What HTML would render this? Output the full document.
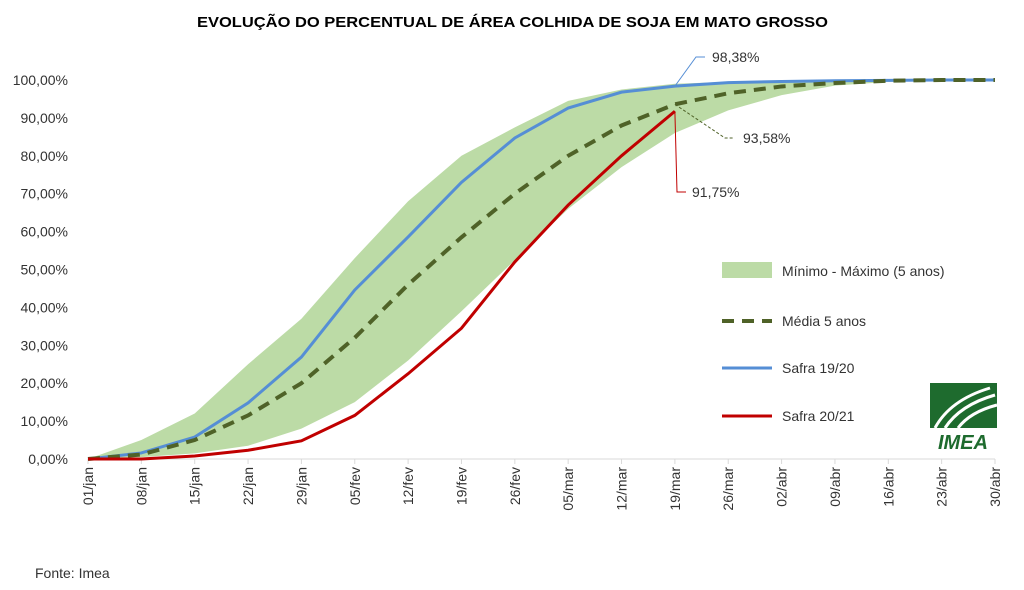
<!DOCTYPE html>
<html><head><meta charset="utf-8"><style>
body{margin:0;background:#fff;font-family:"Liberation Sans",sans-serif}
svg text{font-family:"Liberation Sans",sans-serif}
</style></head><body>
<svg id="c" width="1024" height="585" viewBox="0 0 1024 585">
<text x="197" y="27" textLength="631" lengthAdjust="spacingAndGlyphs" font-size="15" font-weight="bold" fill="#000">EVOLUÇÃO DO PERCENTUAL DE ÁREA COLHIDA DE SOJA EM MATO GROSSO</text>
<g id="yax"></g>
<g id="xax"></g>
<g id="marks"></g>
<g>
<rect x="722" y="262" width="50" height="16" fill="#bcdba6"/>
<text x="782" y="276" font-size="14" fill="#333">Mínimo - Máximo (5 anos)</text>
<line x1="722" y1="321" x2="772" y2="321" stroke="#4f6228" stroke-width="4" stroke-dasharray="12,8"/>
<text x="782" y="326" font-size="14" fill="#333">Média 5 anos</text>
<line x1="722" y1="368" x2="772" y2="368" stroke="#558ed5" stroke-width="3"/>
<text x="782" y="373" font-size="14" fill="#333">Safra 19/20</text>
<line x1="722" y1="416" x2="772" y2="416" stroke="#c00000" stroke-width="3"/>
<text x="782" y="421" font-size="14" fill="#333">Safra 20/21</text>
</g>
<g>
<rect x="930" y="383" width="67" height="45" fill="#1e6b2e"/>
<path d="M935 428 Q950 400 990 388 M945 428 Q960 405 995 395 M958 428 Q970 412 997 405" stroke="#fff" stroke-width="3" fill="none"/>
<text x="963" y="449" text-anchor="middle" font-size="20" font-style="italic" fill="#1e6b2e" font-weight="bold">IMEA</text>
</g>
<text x="35" y="578" font-size="14" fill="#333">Fonte: Imea</text>
</svg>
<script>
const categories=["01/jan","08/jan","15/jan","22/jan","29/jan","05/fev","12/fev","19/fev","26/fev","05/mar","12/mar","19/mar","26/mar","02/abr","09/abr","16/abr","23/abr","30/abr"];
const yTicks=[0,10,20,30,40,50,60,70,80,90,100];
const minVals=[0,0.5,1.5,3.5,8,15,26,39,52.5,66,77,86,92,96,98.5,99.5,100,100];
const maxVals=[0,5,12,25,37,53,68,80,87.5,94.5,97.5,99,99.5,99.8,100,100,100,100];
const meanVals=[0,1.2,5,11.5,20,32,46,58.5,70,80,88,93.58,96.5,98.3,99.2,99.8,100,100];
const safra1920=[0,1.6,5.8,14.8,26.9,44.6,58.6,73,84.7,92.6,96.8,98.38,99.3,99.6,99.8,99.9,100,100];
const safra2021=[0,0,0.8,2.3,4.8,11.5,22.5,34.5,52,67,80,91.75];
const NS="http://www.w3.org/2000/svg";
const X0=88,X1=995,Y0=459,Y100=80;
const xs=i=>X0+(X1-X0)*i/(categories.length-1);
const ys=v=>Y0-(Y0-Y100)*v/100;
function mk(t,a,p){const e=document.createElementNS(NS,t);for(const k in a)e.setAttribute(k,a[k]);p.appendChild(e);return e;}
const yax=document.getElementById('yax'),xax=document.getElementById('xax'),marks=document.getElementById('marks');
yTicks.forEach(v=>{const t=mk('text',{x:68,y:ys(v)+5,'text-anchor':'end','font-size':14,fill:'#333'},yax);t.textContent=v.toFixed(2).replace('.',',')+'%';

});
mk('line',{x1:X0,y1:Y0,x2:X1,y2:Y0,stroke:'#d9d9d9','stroke-width':1},xax);
categories.forEach((c,i)=>{const x=xs(i);mk('line',{x1:x,y1:Y0,x2:x,y2:Y0+5,stroke:'#d9d9d9'},xax);
const t=mk('text',{x:x+5,y:Y0+8,'text-anchor':'end','font-size':14,fill:'#333',transform:`rotate(-90 ${x+5} ${Y0+8})`},xax);t.textContent=c;

});
let d='';maxVals.forEach((v,i)=>d+=(i?'L':'M')+xs(i)+' '+ys(v));
for(let i=minVals.length-1;i>=0;i--)d+='L'+xs(i)+' '+ys(minVals[i]);
const band=mk('path',{d:d+'Z',fill:'#bcdba6'},marks);


const pts=a=>a.map((v,i)=>xs(i)+','+ys(v)).join(' ');
const l1=mk('polyline',{points:pts(safra1920),fill:'none',stroke:'#558ed5','stroke-width':3},marks);


const lm=mk('polyline',{points:pts(meanVals),fill:'none',stroke:'#4f6228','stroke-width':4,'stroke-dasharray':'12,8'},marks);


const l2=mk('polyline',{points:pts(safra2021),fill:'none',stroke:'#c00000','stroke-width':3},marks);


const li=11,lx=xs(li);
function lab(txt,x,y,col,path,dash){mk('path',{d:path,fill:'none',stroke:col,'stroke-width':1,'stroke-dasharray':dash||''},marks);
const t=mk('text',{x:x,y:y,'font-size':14,fill:'#333'},marks);t.textContent=txt;

}
lab(safra1920[li].toFixed(2).replace('.',',')+'%',712,62,'#558ed5',`M${lx} ${ys(safra1920[li])} L696 57 L705 57`);
lab(meanVals[li].toFixed(2).replace('.',',')+'%',743,143,'#4f6228',`M${lx} ${ys(meanVals[li])} L725 138 L734 138`,'3,2');
lab(safra2021[li].toFixed(2).replace('.',',')+'%',692,197,'#c00000',`M${lx} ${ys(safra2021[li])} L677 192 L686 192`);
</script>
</body></html>
